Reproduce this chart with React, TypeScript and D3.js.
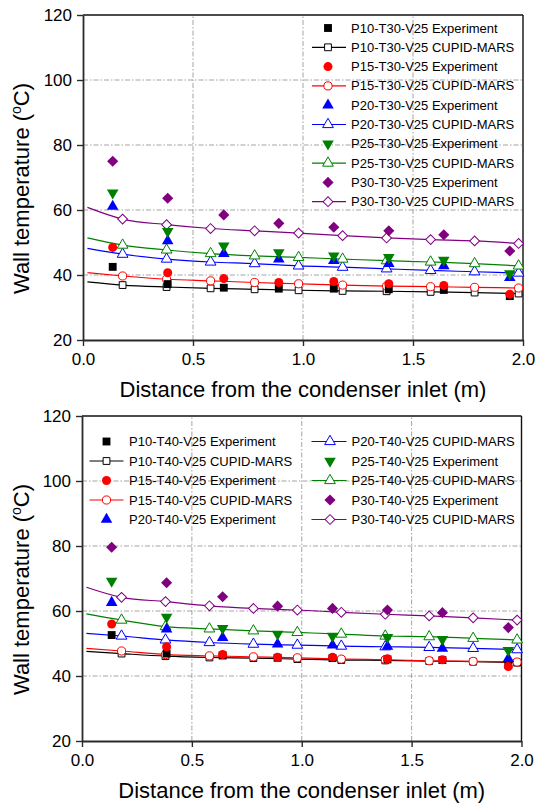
import React, { useEffect, useRef } from 'react';
import * as d3 from 'd3';

// series order: P10, P15, P20, P25, P30
const pressures = ['P10', 'P15', 'P20', 'P25', 'P30'];
const colors = ['#000000', '#ff0000', '#0000ff', '#008000', '#800080'];
const expShapes = ['square', 'circle', 'triangle', 'triangleDown', 'diamond'];
const modelShapes = ['square', 'circle', 'triangle', 'triangle', 'diamond'];

const xTicks = [0, 0.5, 1.0, 1.5, 2.0];
const yTicks = [20, 40, 60, 80, 100, 120];
const xGrid = [0.5, 1.0, 1.5];
const yGrid = [40, 60, 80, 100];

// measured positions (m)
const expX = [0.135, 0.385, 0.64, 0.89, 1.14, 1.39, 1.64, 1.94];
// first point is where the calculated curve starts (no marker there)
const modelX = [0.02, 0.18, 0.38, 0.58, 0.78, 0.98, 1.18, 1.38, 1.58, 1.78, 1.98];

// T30 case
const t30Exp = [
    [42.5, 37.2, 36.1, 35.8, 35.8, 35.6, 35.4, 33.5],
    [48.5, 40.7, 38.9, 37.7, 38.0, 37.3, 36.8, 34.1],
    [61.1, 50.5, 46.6, 44.9, 44.4, 43.5, 42.8, 39.2],
    [65.3, 53.4, 49.0, 46.9, 45.9, 45.4, 44.6, 40.4],
    [75.0, 63.6, 58.5, 55.9, 54.7, 53.6, 52.4, 47.4]
];
const t30Model = [
    [37.9, 36.9, 36.3, 35.9, 35.6, 35.3, 35.1, 35.0, 34.8, 34.6, 34.3],
    [40.7, 39.7, 38.7, 38.2, 37.7, 37.3, 36.9, 36.6, 36.4, 36.2, 36.0],
    [48.2, 46.4, 44.9, 44.0, 43.5, 42.8, 42.4, 41.9, 41.4, 41.0, 40.6],
    [51.4, 49.2, 47.7, 46.6, 45.9, 45.4, 44.9, 44.4, 44.0, 43.5, 42.8],
    [60.8, 57.2, 55.5, 54.3, 53.6, 52.9, 52.1, 51.4, 50.9, 50.5, 49.7]
];

// T40 case
const t40Exp = [
    [52.6, 46.9, 46.3, 45.6, 45.5, 45.1, 44.9, 43.5],
    [56.0, 49.0, 46.6, 45.8, 45.8, 45.3, 45.0, 42.9],
    [62.6, 54.4, 51.8, 49.8, 49.5, 49.1, 48.5, 45.3],
    [69.2, 58.1, 54.7, 52.9, 52.3, 51.9, 51.3, 47.9],
    [79.6, 68.7, 64.4, 61.5, 60.8, 60.3, 59.5, 54.9]
];
const t40Model = [
    [47.6, 46.9, 46.1, 45.7, 45.5, 45.2, 44.9, 44.8, 44.6, 44.4, 44.1],
    [48.5, 47.7, 46.6, 46.2, 45.9, 45.6, 45.2, 45.0, 44.7, 44.5, 44.3],
    [53.1, 52.3, 51.1, 50.3, 49.8, 49.5, 49.2, 49.0, 48.8, 48.5, 48.1],
    [59.1, 57.2, 55.2, 54.5, 53.9, 53.4, 52.9, 52.3, 52.1, 51.6, 51.1],
    [67.3, 64.2, 62.9, 61.6, 60.8, 60.3, 59.6, 59.0, 58.5, 57.9, 57.2]
];

const FONT = '"Liberation Sans", Arial, sans-serif';

function symbolPath(shape, filled) {
    if (shape === 'circle') return d3.symbol().type(d3.symbolCircle).size(filled ? 64 : 52)();
    if (shape === 'square') return d3.symbol().type(d3.symbolSquare).size(filled ? 62 : 46)();
    if (shape === 'diamond') return d3.symbol().type(d3.symbolSquare).size(filled ? 62 : 48)();
    return d3.symbol().type(d3.symbolTriangle).size(filled ? 58 : 50)();
}

function symbolRotate(shape) {
    if (shape === 'diamond') return 45;
    if (shape === 'triangleDown') return 180;
    return 0;
}

function addMarker(g, x, y, shape, color, filled) {
    g.append('path')
        .attr('d', symbolPath(shape, filled))
        .attr('transform', 'translate(' + x + ',' + y + ') rotate(' + symbolRotate(shape) + ')')
        .attr('fill', filled ? color : '#fff')
        .attr('stroke', color)
        .attr('stroke-width', filled ? 0 : 1);
}

function drawPanel(svg, cfg) {
    const x = d3.scaleLinear().domain([0, 2]).range([cfg.x0, cfg.x1]);
    const y = d3.scaleLinear().domain([20, 120]).range([cfg.y0, cfg.y1]);
    const g = svg.append('g');

    // grid
    g.selectAll('.gx').data(xGrid).enter().append('line')
        .attr('x1', d => x(d)).attr('x2', d => x(d))
        .attr('y1', cfg.y0).attr('y2', cfg.y1)
        .attr('stroke', '#9a9a9a').attr('stroke-width', 0.9)
        .attr('stroke-dasharray', '5,2,1.5,2');
    g.selectAll('.gy').data(yGrid).enter().append('line')
        .attr('x1', cfg.x0).attr('x2', cfg.x1)
        .attr('y1', d => y(d)).attr('y2', d => y(d))
        .attr('stroke', '#9a9a9a').attr('stroke-width', 0.9)
        .attr('stroke-dasharray', '5,2,1.5,2');

    // frame top/right
    g.append('line').attr('x1', cfg.x0).attr('x2', cfg.x1).attr('y1', cfg.y1).attr('y2', cfg.y1)
        .attr('stroke', '#111').attr('stroke-width', 1.4);
    g.append('line').attr('x1', cfg.x1).attr('x2', cfg.x1).attr('y1', cfg.y1).attr('y2', cfg.y0)
        .attr('stroke', '#111').attr('stroke-width', 1.4);

    // axes
    const ax = g.append('g').attr('transform', 'translate(0,' + cfg.y0 + ')')
        .call(d3.axisBottom(x).tickValues(xTicks).tickFormat(d3.format('.1f')).tickSize(6).tickSizeOuter(0).tickPadding(7));
    const ay = g.append('g').attr('transform', 'translate(' + cfg.x0 + ',0)')
        .call(d3.axisLeft(y).tickValues(yTicks).tickSize(6).tickSizeOuter(0).tickPadding(5));
    [ax, ay].forEach(a => {
        a.select('.domain').attr('stroke', '#2a2a2a').attr('stroke-width', 1.8);
        a.selectAll('.tick line').attr('stroke', '#2a2a2a').attr('stroke-width', 1.4);
        a.selectAll('.tick text').attr('font-family', FONT).attr('font-size', 17).attr('fill', '#000');
    });

    // axis titles
    g.append('text')
        .attr('x', (cfg.x0 + cfg.x1) / 2).attr('y', cfg.y0 + 57)
        .attr('text-anchor', 'middle').attr('font-family', FONT).attr('font-size', 22)
        .text('Distance from the condenser inlet (m)');
    const yt = g.append('text')
        .attr('transform', 'translate(29,' + ((cfg.y0 + cfg.y1) / 2 + 11) + ') rotate(-90)')
        .attr('text-anchor', 'middle').attr('font-family', FONT).attr('font-size', 22);
    yt.append('tspan').text('Wall temperature (');
    yt.append('tspan').attr('dy', -8).attr('font-size', 14).text('o');
    yt.append('tspan').attr('dy', 8).text('C)');

    // calculated curves
    const line = d3.line().x(d => x(d[0])).y(d => y(d[1])).curve(d3.curveMonotoneX);
    cfg.model.forEach((vals, i) => {
        const pts = modelX.map((mx, j) => [mx, vals[j]]);
        g.append('path').attr('d', line(pts)).attr('fill', 'none')
            .attr('stroke', colors[i]).attr('stroke-width', 1.2);
        pts.slice(1).forEach(p => addMarker(g, x(p[0]), y(p[1]), modelShapes[i], colors[i], false));
    });

    // experiments
    cfg.exp.forEach((vals, i) => {
        vals.forEach((v, j) => addMarker(g, x(expX[j]), y(v), expShapes[i], colors[i], true));
    });

    // legend
    const entries = [];
    pressures.forEach((p, i) => {
        entries.push({ label: p + '-' + cfg.tag + '-V25 Experiment', i, model: false });
        entries.push({ label: p + '-' + cfg.tag + '-V25 CUPID-MARS', i, model: true });
    });
    entries.forEach((e, k) => {
        const col = cfg.legendCols[Math.floor(k / cfg.legendRows)];
        const ly = cfg.legendY + (k % cfg.legendRows) * cfg.legendStep;
        if (e.model) {
            g.append('line').attr('x1', col.l0).attr('x2', col.l1).attr('y1', ly).attr('y2', ly)
                .attr('stroke', colors[e.i]).attr('stroke-width', 1.2);
            addMarker(g, col.sym, ly, modelShapes[e.i], colors[e.i], false);
        } else {
            addMarker(g, col.sym, ly, expShapes[e.i], colors[e.i], true);
        }
        g.append('text').attr('x', col.tx).attr('y', ly).attr('dy', '0.35em')
            .attr('font-family', FONT).attr('font-size', 13).text(e.label);
    });
}

export default function App() {
    const ref = useRef(null);

    useEffect(() => {
        const svg = d3.select(ref.current);
        svg.selectAll('*').remove();
        drawPanel(svg, {
            x0: 83, x1: 523, y0: 340, y1: 15, tag: 'T30',
            exp: t30Exp, model: t30Model,
            legendY: 28, legendStep: 19.3, legendRows: 10,
            legendCols: [{ sym: 328, l0: 312, l1: 346, tx: 351 }]
        });
        drawPanel(svg, {
            x0: 82, x1: 521.5, y0: 741, y1: 416, tag: 'T40',
            exp: t40Exp, model: t40Model,
            legendY: 441.5, legendStep: 19.5, legendRows: 5,
            legendCols: [
                { sym: 106.5, l0: 89.5, l1: 123.5, tx: 129 },
                { sym: 330, l0: 311.5, l1: 346.5, tx: 351.5 }
            ]
        });
    }, []);

    return (
        <svg ref={ref} width={535} height={808}
            style={{ position: 'absolute', left: 0, top: 0, background: '#fff' }} />
    );
}
